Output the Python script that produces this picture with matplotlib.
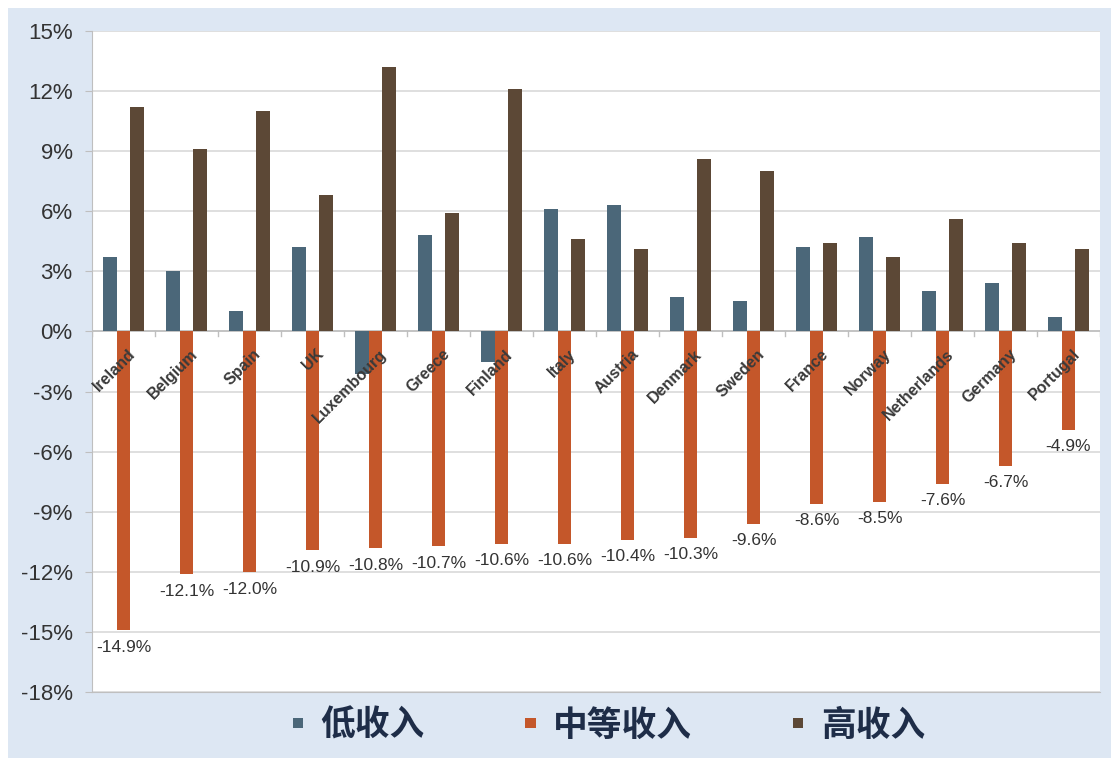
import matplotlib
matplotlib.use("Agg")
import matplotlib.pyplot as plt
import numpy as np
from matplotlib.patches import Rectangle

plt.rcParams['font.family'] = ['Liberation Sans', 'Noto Sans CJK SC', 'DejaVu Sans']

countries = ["Ireland", "Belgium", "Spain", "UK", "Luxembourg", "Greece", "Finland",
             "Italy", "Austria", "Denmark", "Sweden", "France", "Norway",
             "Netherlands", "Germany", "Portugal"]
low_income = [3.7, 3.0, 1.0, 4.2, -2.1, 4.8, -1.5, 6.1, 6.3, 1.7, 1.5, 4.2, 4.7, 2.0, 2.4, 0.7]
mid_income = [-14.9, -12.1, -12.0, -10.9, -10.8, -10.7, -10.6, -10.6, -10.4, -10.3,
              -9.6, -8.6, -8.5, -7.6, -6.7, -4.9]
high_income = [11.2, 9.1, 11.0, 6.8, 13.2, 5.9, 12.1, 4.6, 4.1, 8.6, 8.0, 4.4, 3.7, 5.6, 4.4, 4.1]
series_names = ["低收入", "中等收入", "高收入"]
yticks = list(range(-18, 16, 3))

colors = ["#4b6779", "#c4572a", "#5c4836"]

fig = plt.figure(figsize=(11.11, 7.61), dpi=100, facecolor="white")
bg = Rectangle((8/1111, 3/761), 1 - 8/1111, 1 - 11/761,
               transform=fig.transFigure, facecolor="#dde7f3",
               edgecolor="none", zorder=-10)
fig.patches.append(bg)
ax = fig.add_axes([92/1111, 1 - 692/761, (1100 - 92)/1111, (692 - 31)/761])
ax.set_facecolor("white")

x = np.arange(len(countries))
w = 0.22
for i, (vals, c, name) in enumerate(zip([low_income, mid_income, high_income], colors, series_names)):
    ax.bar(x + (i - 1) * w, vals, width=w, color=c, label=name, zorder=3)

for xi, v in zip(x, mid_income):
    ax.annotate(f"{v:.1f}%", (xi, v), xytext=(0, -7), textcoords="offset points",
                ha="center", va="top", fontsize=12.5, color="#333333")

for xi, name in zip(x, countries):
    ax.text(xi + 0.06, -0.75, name, rotation=45, ha="right", va="top",
            rotation_mode="anchor", fontsize=11.5, fontweight="bold", color="#3a3a3a", zorder=4)

ax.set_xlim(-0.5, len(countries) - 0.5)
ax.set_ylim(-18, 15)
ax.set_yticks(yticks)
ax.set_yticklabels([f"{t}%" for t in yticks], fontsize=16, color="#333333")
ax.set_xticks([])
ax.grid(axis="y", color="#d9d9d9", linewidth=1.2, zorder=0)
ax.axhline(0, color="#bfbfbf", linewidth=1.2, zorder=2)
for b in np.arange(-0.5, len(countries), 1):
    ax.plot([b, b], [0, -0.25], color="#bfbfbf", linewidth=1, zorder=2)
for s in ["top", "right"]:
    ax.spines[s].set_visible(False)
ax.spines["left"].set_color("#bfbfbf")
ax.spines["bottom"].set_color("#bfbfbf")
ax.tick_params(axis="y", length=5, color="#bfbfbf", pad=9)

leg = fig.legend(loc="center", bbox_to_anchor=(0.548, 1 - 725/761), ncol=3, frameon=False,
                 handlelength=0.3, handleheight=0.085, handletextpad=0.5, columnspacing=2.9,
                 prop={"family": ["Noto Sans CJK SC"], "weight": "heavy", "size": 25})
for t in leg.get_texts():
    t.set_color("#1e2d48")

fig.savefig("out.png", dpi=100, facecolor=fig.get_facecolor())
